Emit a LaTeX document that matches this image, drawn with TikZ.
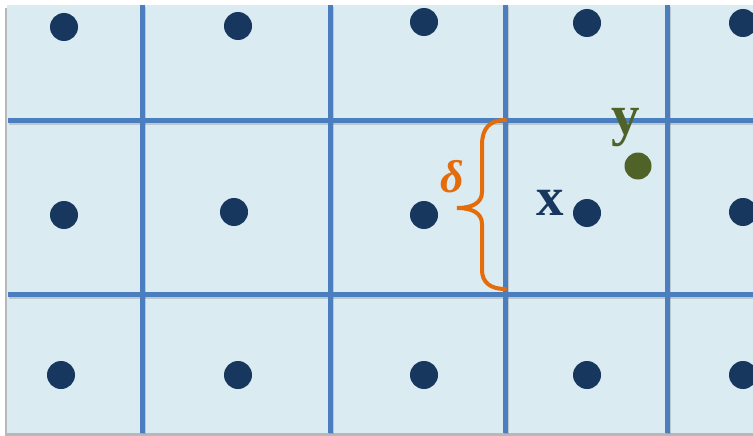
\documentclass[tikz,border=0pt]{standalone}
\usepackage{fontspec}
\setmainfont{Liberation Serif}
\definecolor{bgc}{HTML}{DAEBF2}
\definecolor{gridc}{HTML}{4A7EBF}
\definecolor{dotc}{HTML}{17375E}
\definecolor{greenc}{HTML}{4F6228}
\definecolor{orangec}{HTML}{E46C0A}
\begin{document}
\begin{tikzpicture}[x=1pt,y=-1pt,
  dot/.style={circle,fill=dotc,inner sep=0pt,minimum size=28pt},
  gridline/.style={line width=5pt,draw=gridc},
  gridshadow/.style={line width=5pt,draw=black,opacity=0.14},
  lab/.style={inner sep=0pt,anchor=base}]
\useasboundingbox (0,0) rectangle (753,436);
% background with shadow
\fill[black!28] (5,8) rectangle (755,436);
\fill[bgc] (7,5) rectangle (753,433);
% grid shadows
\foreach \gx in {142,330,505,667} \draw[gridshadow] (\gx+1.5,7) -- (\gx+1.5,434);
\foreach \gy in {120,294} \draw[gridshadow] (9,\gy+2.5) -- (753,\gy+2.5);
% grid
\foreach \gx in {142,330,505,667} \draw[gridline] (\gx,5.5) -- (\gx,433);
\foreach \gy in {120,294} \draw[gridline] (8,\gy) -- (753,\gy);
% dots
\node[dot] (d11) at (64,27) {};
\node[dot] (d12) at (238,26) {};
\node[dot] (d13) at (424,22) {};
\node[dot] (d14) at (587,23) {};
\node[dot] (d15) at (743,23) {};
\node[dot] (d21) at (64,215) {};
\node[dot] (d22) at (234,212) {};
\node[dot] (d23) at (424,215) {};
\node[dot] (d24) at (587,213) {};
\node[dot] (d25) at (743,212) {};
\node[dot] (d31) at (61,375) {};
\node[dot] (d32) at (238,375) {};
\node[dot] (d33) at (424,375) {};
\node[dot] (d34) at (587,375) {};
\node[dot] (d35) at (743,375) {};
\node[dot,fill=greenc,minimum size=27pt] (ydot) at (638,166) {};
% labels
\node[lab,text=dotc,font=\fontsize{55}{60}\selectfont\bfseries] (xl) at (550,215) {x};
\node[lab,text=greenc,font=\fontsize{57}{60}\selectfont\bfseries] (yl) at (626,135) {y};
\node[lab,text=orangec,font=\fontsize{46}{50}\selectfont\bfseries\itshape] (dl) at (452,192) {δ};
% brace
\coordinate (bt) at (505,120);
\coordinate (bb) at (505,289);
\coordinate (tip) at (457,208);
\draw[orangec,line width=4pt,line cap=round]
  (bt) .. controls (490,120) and (482,128) .. (482,145) -- (482,192)
  .. controls (482,203) and (472,208) .. (tip)
  .. controls (472,208) and (482,213) .. (482,224) -- (482,270)
  .. controls (482,282) and (490,289) .. (bb);
\end{tikzpicture}
\end{document}
